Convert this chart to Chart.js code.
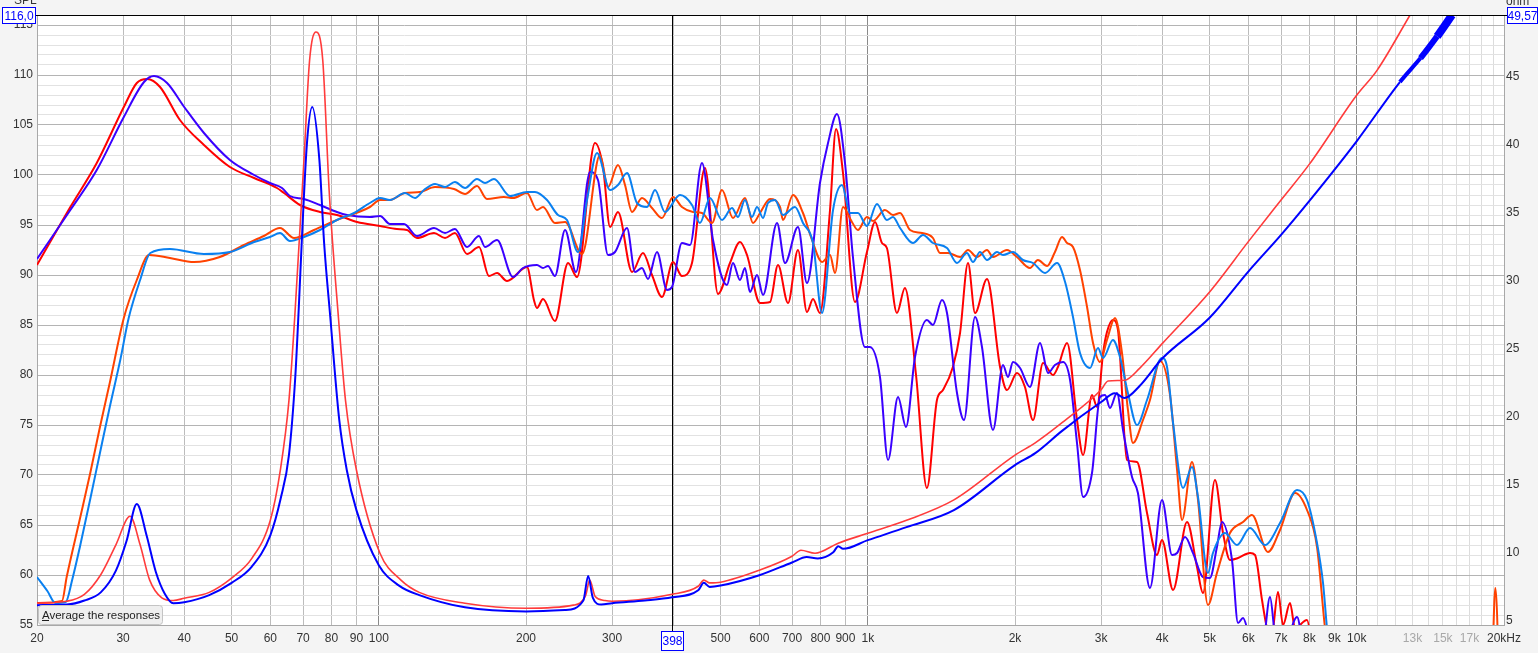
<!DOCTYPE html>
<html>
<head>
<meta charset="utf-8">
<title>SPL and impedance</title>
<script src="https://cdn.jsdelivr.net/npm/chart.js@4.4.1/dist/chart.umd.min.js"></script>
<style>
  html, body { margin: 0; padding: 0; background: #f4f4f4; }
  #wrap { width: 1538px; height: 653px; }
</style>
</head>
<body>
<div id="wrap"><canvas id="chart" width="1538" height="653"></canvas></div>
<script>
// Axis ticks
const xGridFreqs = [20, 30, 40, 50, 60, 70, 80, 90, 100, 200, 300, 400, 500, 600, 700, 800, 900,
    1000, 2000, 3000, 4000, 5000, 6000, 7000, 8000, 9000, 10000,
    11000, 12000, 13000, 14000, 15000, 16000, 17000, 18000, 19000, 20000];
const faintLabels = [13000, 15000, 17000];
const ohmTicks = [5, 10, 15, 20, 25, 30, 35, 40, 45];
const cursorFreq = 398;

// SPL, light blue
const spl1BlueFreq = [
    20, 21, 21.8, 22.9, 23.6, 24.5, 25.7, 26.9, 28.2, 29.6,
    30.8, 32.5, 34.1, 37.4, 43.9, 49.6, 55.6, 59.9, 62.8, 65.8,
    70.3, 75.8, 82.1, 89, 95.9, 100.6, 105.4, 113.1, 118.6, 123.7,
    130.3, 136.6, 143.1, 150.1, 158.8, 164.9, 172, 185.5, 200.9, 208.6,
    220.8, 232.5, 242.6, 255.5, 266.6, 279.4, 297.1, 308.4, 321.8, 337.3,
    353.6, 367.2, 384.8, 413, 437, 453.6, 475.6, 503.3, 527.6, 542.6,
    560.8, 579.6, 593.6, 610.6, 625, 646, 670.8, 709.8, 737, 772.6,
    806, 849, 885.6, 919.4, 954.6, 996, 1044, 1094, 1126, 1164,
    1237, 1297, 1359, 1452, 1522, 1595, 1641, 1696, 1753, 1838,
    1890, 1981, 2076, 2177, 2304, 2438, 2532, 2628, 2716, 2848,
    2956, 3028, 3172, 3278, 3404, 3552, 3724, 3996, 4092, 4210,
    4412, 4602, 4734, 4962, 5080, 5376, 5688, 6048, 6490, 6966,
    7548, 7910, 8292, 8530, 8690, 9000];
const spl1BlueDb = [
    59.8, 58.4, 57.2, 57.3, 59.5, 62.9, 67.6, 72.2, 76.9, 81.5,
    85.7, 89.5, 92.2, 92.6, 92.1, 92.3, 93.3, 93.8, 94.2, 93.4,
    93.8, 94.5, 95.5, 96.2, 97.2, 97.7, 97.5, 98.2, 97.7, 98.5,
    99.1, 98.8, 99.3, 98.7, 99.6, 99.2, 99.6, 97.9, 98.3, 98.3,
    97.5, 96.0, 95.5, 92.3, 97.5, 102.2, 98.5, 99.0, 100.2, 97.2,
    96.8, 98.5, 96.3, 98.0, 97.0, 95.2, 97.7, 95.5, 96.7, 95.8,
    97.5, 95.8, 96.8, 95.7, 97.2, 97.5, 96.0, 96.8, 95.2, 93.2,
    86.2, 96.5, 99.0, 96.2, 96.2, 94.9, 97.1, 95.5, 95.8, 94.7,
    93.2, 94.0, 93.2, 92.7, 91.2, 92.2, 91.3, 92.3, 91.5, 92.3,
    92.0, 92.3, 91.5, 91.2, 90.2, 91.2, 89.3, 85.8, 82.2, 80.7,
    82.7, 81.7, 83.5, 81.8, 78.2, 75.0, 77.5, 81.7, 80.8, 75.2,
    68.7, 70.8, 67.8, 60.2, 62.2, 64.2, 63.0, 64.7, 63.0, 65.2,
    68.5, 67.5, 63.2, 59.2, 54.7, 48];

// SPL, orange red
const spl1RedFreq = [
    20, 22.5, 23.0, 24.5, 25.7, 26.9, 28.2, 30.1, 32.0, 33.9,
    37.4, 41.9, 47.3, 53.0, 58.2, 62.8, 67.1, 73.7, 82.1, 95.9,
    100.6, 105.4, 113.1, 121.4, 130.3, 142.5, 150.1, 158.8, 166.4, 180.3,
    188.1, 200.9, 210.6, 216.7, 229.2, 240.4, 260.4, 283.4, 294.3, 308.4,
    318.8, 329.5, 345.3, 362, 379.4, 399.6, 416.8, 439, 458, 480.2,
    503.3, 530, 560.8, 582.4, 602, 631, 661.4, 670.8, 703.2, 737,
    769, 806, 837, 857, 889.8, 928, 954.6, 996, 1025, 1084,
    1126, 1164, 1220, 1291, 1359, 1405, 1459, 1544, 1603, 1672,
    1753, 1803, 1926, 2019, 2146, 2228, 2326, 2414, 2496, 2556,
    2628, 2716, 2808, 2888, 2984, 3084, 3202, 3310, 3404, 3486,
    3654, 3776, 3958, 4150, 4290, 4392, 4602, 4734, 4962, 5176,
    5504, 5852, 6104, 6582, 6966, 7476, 7910, 8292, 8610, 9000,
    18800, 19200, 19600];
const spl1RedDb = [
    57.2, 57.4, 59.8, 65.7, 70.2, 74.8, 79.3, 85.7, 89.5, 92.0,
    91.7, 91.3, 91.8, 93.0, 93.9, 94.7, 93.7, 94.5, 95.5, 96.8,
    97.5, 97.5, 98.2, 98.3, 98.8, 98.6, 98.1, 98.9, 97.6, 97.8,
    97.7, 98.2, 96.5, 96.8, 95.2, 95.3, 92.1, 102.0, 98.8, 101.0,
    99.0, 96.3, 97.7, 96.7, 95.7, 97.8, 96.8, 96.3, 96.2, 95.2,
    98.5, 95.7, 97.7, 95.2, 96.2, 97.6, 96.8, 95.5, 98.0, 96.2,
    93.5, 91.3, 92.0, 90.2, 96.8, 95.3, 94.5, 95.8, 95.4, 96.5,
    96.0, 96.2, 94.5, 94.2, 93.7, 92.2, 92.2, 91.8, 92.5, 91.8,
    92.5, 91.8, 92.5, 91.8, 90.7, 91.5, 90.9, 92.3, 93.8, 93.2,
    92.8, 90.5, 86.8, 83.2, 81.3, 83.5, 85.7, 82.2, 76.5, 73.2,
    75.5, 77.5, 81.4, 78.0, 70.5, 65.5, 71.3, 67.5, 57.0, 60.2,
    64.2, 65.3, 66.0, 62.3, 64.5, 68.2, 66.5, 62.8, 54.7, 48,
    48, 58.7, 48];

// SPL, blue violet
const spl2BlueFreq = [
    20, 23.4, 26.5, 30.1, 33.1, 34.7, 36.9, 40, 43.9, 49.6,
    55.6, 59.9, 63.4, 65.8, 70.3, 75.8, 82.1, 86.1, 95.9, 100.6,
    105.4, 112.6, 119.7, 129.7, 136.6, 143.1, 151.5, 160.3, 164.9, 174.5,
    188.1, 197.2, 210.6, 216.7, 221.8, 229.2, 240.4, 253, 270.4, 280.7,
    294.3, 304.1, 321.8, 334.2, 345.3, 355.3, 370.6, 388.4, 397.7, 416.8,
    433, 458, 482.5, 515.2, 530, 547.8, 560.8, 574.2, 593.6, 610.6,
    652.2, 677.2, 719.8, 751, 798.4, 829.2, 865, 898.2, 932.4, 986.8,
    1010, 1059, 1100, 1153, 1197, 1249, 1321, 1359, 1418, 1452,
    1522, 1573, 1657, 1712, 1803, 1890, 1935, 1981, 2048, 2146,
    2250, 2337, 2414, 2508, 2592, 2678, 2756, 2874, 2984, 3056,
    3128, 3232, 3326, 3470, 3568, 3776, 3996, 4190, 4290, 4454,
    4624, 4846, 5008, 5176, 5300, 5556, 5716, 5852, 6100, 6400,
    6646, 6804, 7066, 7548, 7800, 8200];
const spl2BlueDb = [
    91.6, 96.5, 100.5, 105.8, 109.3, 109.9, 109.2, 106.8, 104.2, 101.5,
    100.0, 99.2, 98.7, 97.9, 97.6, 97.0, 96.3, 96.0, 95.8, 95.9,
    95.1, 95.1, 93.9, 94.7, 94.2, 94.6, 92.8, 93.9, 92.8, 93.5,
    89.8, 90.7, 91.0, 90.7, 90.9, 89.9, 94.5, 90.3, 100.3, 99.5,
    92.0, 92.3, 94.7, 90.3, 90.7, 89.6, 92.3, 88.5, 88.8, 93.2,
    93.0, 101.2, 93.5, 89.0, 91.2, 89.5, 90.7, 88.3, 90.0, 88.0,
    95.2, 91.2, 94.8, 89.2, 99.2, 103.2, 106.1, 101.2, 91.8, 82.8,
    82.8, 79.8, 71.5, 77.8, 74.8, 81.8, 85.5, 85.0, 87.5, 86.2,
    78.2, 75.5, 85.8, 82.8, 74.5, 81.0, 79.8, 81.3, 80.7, 78.8,
    83.2, 80.2, 81.0, 81.3, 79.5, 73.2, 67.8, 70.2, 77.8, 78.0,
    76.7, 78.2, 74.5, 69.8, 68.2, 58.7, 67.5, 62.0, 62.2, 63.8,
    62.2, 59.8, 59.7, 62.8, 65.3, 61.5, 55.2, 55.7, 53.0, 52.5,
    57.8, 54.0, 52.5, 55.8, 52.0, 48];

// SPL, red
const spl2RedFreq = [
    20, 23.4, 26.5, 30.1, 32.0, 33.6, 35.7, 39.2, 43.9, 49.6,
    55.6, 61.9, 64.0, 69.0, 75.8, 82.1, 90.3, 100.6, 108.9, 114.2,
    119.7, 129.7, 136.6, 143.1, 151.5, 160.3, 168, 174.5, 182.9, 200.9,
    207.6, 210.6, 216.7, 229.2, 243.8, 254.3, 276.8, 287.4, 297.1, 308.4,
    329.5, 346.9, 362, 379.4, 399.6, 416.8, 437, 464.6, 494, 522.6,
    547.8, 566.2, 602, 631, 655.2, 686.8, 719.8, 751, 772.6, 798.4,
    837, 861, 889.8, 941.4, 996, 1035, 1069, 1094, 1147, 1191,
    1255, 1321, 1385, 1425, 1493, 1544, 1603, 1657, 1753, 1864,
    1926, 2019, 2096, 2177, 2282, 2392, 2448, 2556, 2678, 2756,
    2874, 2944, 3028, 3084, 3172, 3248, 3388, 3552, 3724, 3902,
    3996, 4210, 4496, 4712, 4846, 5128, 5326, 5504, 5716, 6048,
    6192, 6400, 6552, 6700, 6900, 7066, 7302, 7476, 7910, 8100,
    8500];
const spl2RedDb = [
    91.0, 96.8, 101.2, 106.8, 109.2, 109.6, 108.8, 105.5, 103.0, 100.8,
    99.7, 98.7, 98.2, 97.0, 96.3, 96.0, 95.3, 94.9, 94.6, 94.5,
    93.7, 94.2, 93.7, 94.2, 92.1, 92.8, 89.9, 90.2, 89.4, 90.8,
    87.5, 86.7, 87.6, 85.4, 91.2, 89.8, 103.2, 100.8, 94.8, 96.3,
    90.3, 92.2, 90.0, 87.8, 91.3, 89.9, 91.2, 100.7, 88.1, 91.2,
    93.3, 92.0, 87.2, 87.3, 91.0, 87.2, 92.5, 86.3, 87.6, 86.2,
    96.5, 104.6, 100.2, 87.3, 92.3, 95.3, 93.2, 92.7, 86.2, 88.7,
    80.0, 68.7, 77.5, 78.5, 80.8, 84.2, 91.2, 86.2, 89.6, 80.8,
    78.5, 80.2, 78.8, 75.5, 81.2, 80.0, 80.8, 83.2, 75.5, 72.0,
    78.0, 76.8, 82.2, 84.3, 85.5, 84.5, 71.5, 71.3, 66.2, 62.0,
    63.5, 58.5, 65.3, 60.8, 58.2, 69.5, 64.2, 61.5, 61.7, 62.2,
    62.0, 57.5, 54.7, 54.0, 58.3, 55.0, 57.2, 54.7, 55.5, 53,
    48];

// Impedance, blue
const impBlueFreq = [
    20, 23, 25, 27, 29, 30.5, 32, 33.5, 35, 36.5,
    38, 40, 45, 50, 55, 60, 63, 65.5, 67.5, 68.6,
    69.7, 71.3, 73.1, 75.6, 77.3, 79.6, 83, 86, 90, 100,
    110, 121, 150, 200, 240, 262, 268, 274, 285, 300,
    350, 398, 450, 462, 475, 500, 600, 700, 750, 790,
    850, 870, 890, 1000, 1200, 1500, 2000, 2200, 2500, 3000,
    3200, 3350, 3600, 4000, 5000, 6000, 7000, 8000, 10000, 12250,
    13500, 14600, 15660];
const impBlueOhm = [
    6.16, 6.2, 6.5, 7.1, 8.7, 10.9, 13.6, 11.3, 8.6, 7.0,
    6.3, 6.37, 6.9, 7.8, 9.0, 11.3, 14.0, 17.2, 23.0, 28.0,
    33.5, 40.15, 42.8, 38.9, 32.8, 27.3, 19.8, 16.1, 13.15, 9.1,
    7.6, 6.9, 6.0, 5.7, 5.8, 6.5, 8.3, 6.7, 6.2, 6.3,
    6.5, 6.74, 7.25, 7.8, 7.5, 7.6, 8.36, 9.3, 9.7, 9.6,
    10.05, 10.5, 10.3, 10.94, 11.9, 13.15, 16.46, 17.34, 19.0, 21.1,
    21.75, 21.4, 22.3, 24.3, 27.3, 30.7, 33.4, 35.9, 40.3, 44.64,
    46.4, 48.0, 49.57];

// Impedance, red
const impRedFreq = [
    20, 23, 25, 27, 29, 31, 32.5, 34, 36, 38,
    40, 45, 50, 55, 60, 62.9, 65.5, 67.3, 70.3, 72.2,
    74.4, 76.8, 79.2, 82.7, 85.5, 90, 100.5, 111, 121, 150,
    200, 250, 265, 270, 277, 290, 300, 398, 450, 462,
    475, 500, 600, 700, 730, 780, 870, 1000, 1200, 1500,
    2000, 2200, 2500, 3000, 3100, 3350, 3600, 4000, 5000, 6000,
    7000, 8000, 10000, 11000, 12850];
const impRedOhm = [
    6.3, 6.45, 6.96, 8.4, 10.6, 12.7, 10.6, 8.0, 6.7, 6.5,
    6.67, 7.1, 8.15, 9.6, 12.4, 16.1, 21.2, 27.3, 38.9, 46.26,
    48.32, 46.26, 36.5, 27.3, 21.2, 16.1, 10.0, 8.0, 7.1, 6.3,
    5.93, 6.16, 6.9, 8.0, 6.8, 6.5, 6.45, 6.96, 7.55, 8.0,
    7.8, 7.85, 8.73, 9.76, 10.2, 9.98, 10.72, 11.45, 12.4, 13.9,
    17.2, 18.1, 19.6, 22.0, 22.65, 22.7, 23.6, 25.4, 29.2, 32.9,
    35.96, 38.6, 43.68, 45.5, 49.57];

const toPoints = (xs, ys) => xs.map((x, i) => ({ x: x, y: ys[i] }));

function lineSet(label, xs, ys, color, width, axis) {
    return {
        label: label,
        data: toPoints(xs, ys),
        borderColor: color,
        borderWidth: width,
        yAxisID: axis,
        pointRadius: 0,
        fill: false,
        cubicInterpolationMode: 'monotone'
    };
}

function freqLabel(v) {
    if (v === 20000) return '20kHz';
    if (v < 1000) return String(v);
    if (v <= 10000) return (v / 1000) + 'k';
    if (faintLabels.includes(v)) return (v / 1000) + 'k';
    return '';
}

// Background, cursor, value boxes
const decor = {
    id: 'decor',
    beforeDraw(chart) {
        const { ctx, chartArea: a } = chart;
        ctx.save();
        ctx.fillStyle = '#f4f4f4';
        ctx.fillRect(0, 0, chart.width, chart.height);
        ctx.fillStyle = '#ffffff';
        ctx.fillRect(a.left, a.top, a.right - a.left, a.bottom - a.top);
        ctx.restore();
    },
    beforeDatasetsDraw(chart) {
        const { ctx, chartArea: a } = chart;
        const cx = Math.round(chart.scales.x.getPixelForValue(cursorFreq)) + 0.5;
        ctx.save();
        ctx.strokeStyle = '#000000';
        ctx.lineWidth = 1;
        ctx.beginPath();
        ctx.moveTo(cx, a.top);
        ctx.lineTo(cx, a.bottom + 6);
        ctx.stroke();
        ctx.restore();
    },
    afterDraw(chart) {
        const { ctx, chartArea: a } = chart;
        ctx.save();
        // top edge
        ctx.strokeStyle = '#000000';
        ctx.lineWidth = 1;
        ctx.beginPath();
        ctx.moveTo(a.left - 2, a.top + 0.5);
        ctx.lineTo(a.right + 3, a.top + 0.5);
        ctx.stroke();

        ctx.font = "12px 'Liberation Sans', Arial, sans-serif";
        ctx.fillStyle = '#333333';
        ctx.textBaseline = 'alphabetic';
        ctx.textAlign = 'left';
        ctx.fillText('SPL', 14, 4);
        ctx.fillText('ohm', 1506, 5);

        function valueBox(text, x, y, w, h) {
            ctx.fillStyle = '#ffffff';
            ctx.fillRect(x, y, w, h);
            ctx.strokeStyle = '#0000ff';
            ctx.lineWidth = 1;
            ctx.strokeRect(x + 0.5, y + 0.5, w - 1, h - 1);
            ctx.fillStyle = '#0000ff';
            ctx.font = "12px 'Liberation Sans', Arial, sans-serif";
            ctx.textAlign = 'center';
            ctx.textBaseline = 'middle';
            ctx.fillText(text, x + w / 2, y + h / 2 + 1);
        }
        valueBox('116,0', 2, 7, 34, 17);
        valueBox('49,57', 1507, 7, 31, 17);
        const cx = Math.round(chart.scales.x.getPixelForValue(cursorFreq));
        valueBox(String(cursorFreq), cx - 11, 631, 23, 20);

        // hint button
        const bx = 38.5, by = 605.5, bw = 124, bh = 19;
        ctx.fillStyle = '#efefef';
        ctx.strokeStyle = '#c4c4c4';
        ctx.beginPath();
        ctx.roundRect(bx, by, bw, bh, 3);
        ctx.fill();
        ctx.stroke();
        ctx.fillStyle = '#1e1e1e';
        ctx.font = "11.5px 'Liberation Sans', Arial, sans-serif";
        ctx.textAlign = 'left';
        ctx.textBaseline = 'middle';
        ctx.fillText('Average the responses', 42, by + bh / 2 + 0.5);
        ctx.strokeStyle = '#1e1e1e';
        ctx.beginPath();
        ctx.moveTo(42, by + 15);
        ctx.lineTo(49, by + 15);
        ctx.stroke();
        ctx.restore();
    }
};

Chart.defaults.font.family = "'Liberation Sans', Arial, sans-serif";
Chart.defaults.font.size = 12;
Chart.defaults.color = '#333333';

new Chart(document.getElementById('chart'), {
    type: 'line',
    data: {
        datasets: [
            lineSet('Impedance 1', impBlueFreq, impBlueOhm, '#0000ff', 2, 'y2'),
            lineSet('Impedance 2', impRedFreq, impRedOhm, '#ff3b3b', 1.6, 'y2'),
            lineSet('SPL 1 blue', spl1BlueFreq, spl1BlueDb, '#0a80f0', 2, 'y'),
            lineSet('SPL 1 red', spl1RedFreq, spl1RedDb, '#ff4200', 2, 'y'),
            lineSet('SPL 2 blue', spl2BlueFreq, spl2BlueDb, '#3a00ff', 2, 'y'),
            lineSet('SPL 2 red', spl2RedFreq, spl2RedDb, '#ff0000', 2, 'y')
        ]
    },
    options: {
        responsive: false,
        animation: false,
        devicePixelRatio: 1,
        layout: { padding: { top: 15, left: 0, right: 0, bottom: 0 } },
        plugins: { legend: { display: false }, tooltip: { enabled: false } },
        datasets: {
            line: {
                segment: {
                    borderWidth: (ctx) => {
                        if (ctx.datasetIndex !== 0) return undefined;
                        const f = ctx.p0.parsed.x;
                        if (f >= 14600) return 8;
                        if (f >= 13500) return 6;
                        if (f >= 12250) return 4;
                        return undefined;
                    }
                }
            }
        },
        scales: {
            x: {
                type: 'logarithmic',
                min: 20,
                max: 20000,
                afterBuildTicks: (s) => { s.ticks = xGridFreqs.map(v => ({ value: v })); },
                afterFit: (s) => { s.height = 28; },
                border: { color: '#a8a8a8' },
                grid: {
                    drawTicks: false,
                    color: (ctx) => {
                        const v = ctx.tick ? ctx.tick.value : 0;
                        if (v === 100 || v === 1000 || v === 10000) return '#8a8a8a';
                        if (v > 10000) return '#dcdcdc';
                        return '#bcbcbc';
                    }
                },
                ticks: {
                    autoSkip: false,
                    maxRotation: 0,
                    minRotation: 0,
                    padding: 6,
                    callback: (v) => freqLabel(v),
                    color: (ctx) => faintLabels.includes(ctx.tick.value) ? '#a8a8a8' : '#333333'
                }
            },
            y: {
                position: 'left',
                min: 55,
                max: 116,
                afterBuildTicks: (s) => {
                    const t = [];
                    for (let v = 55; v <= 116; v++) t.push({ value: v });
                    s.ticks = t;
                },
                afterFit: (s) => { s.width = 37; },
                border: { color: '#a8a8a8' },
                grid: {
                    drawTicks: false,
                    color: (ctx) => (ctx.tick && ctx.tick.value % 5 === 0) ? '#b4b4b4' : '#e2e2e2'
                },
                ticks: {
                    autoSkip: false,
                    padding: 4,
                    callback: (v) => (v % 5 === 0 && v <= 115) ? String(v) : ''
                }
            },
            y2: {
                position: 'right',
                min: 4.7,
                max: 49.57,
                afterBuildTicks: (s) => { s.ticks = ohmTicks.map(v => ({ value: v })); },
                afterFit: (s) => { s.width = 34; },
                border: { color: '#a8a8a8' },
                grid: { display: false, drawTicks: false },
                ticks: { autoSkip: false, padding: 2, callback: (v) => String(v) }
            }
        }
    },
    plugins: [decor]
});
</script>
</body>
</html>
